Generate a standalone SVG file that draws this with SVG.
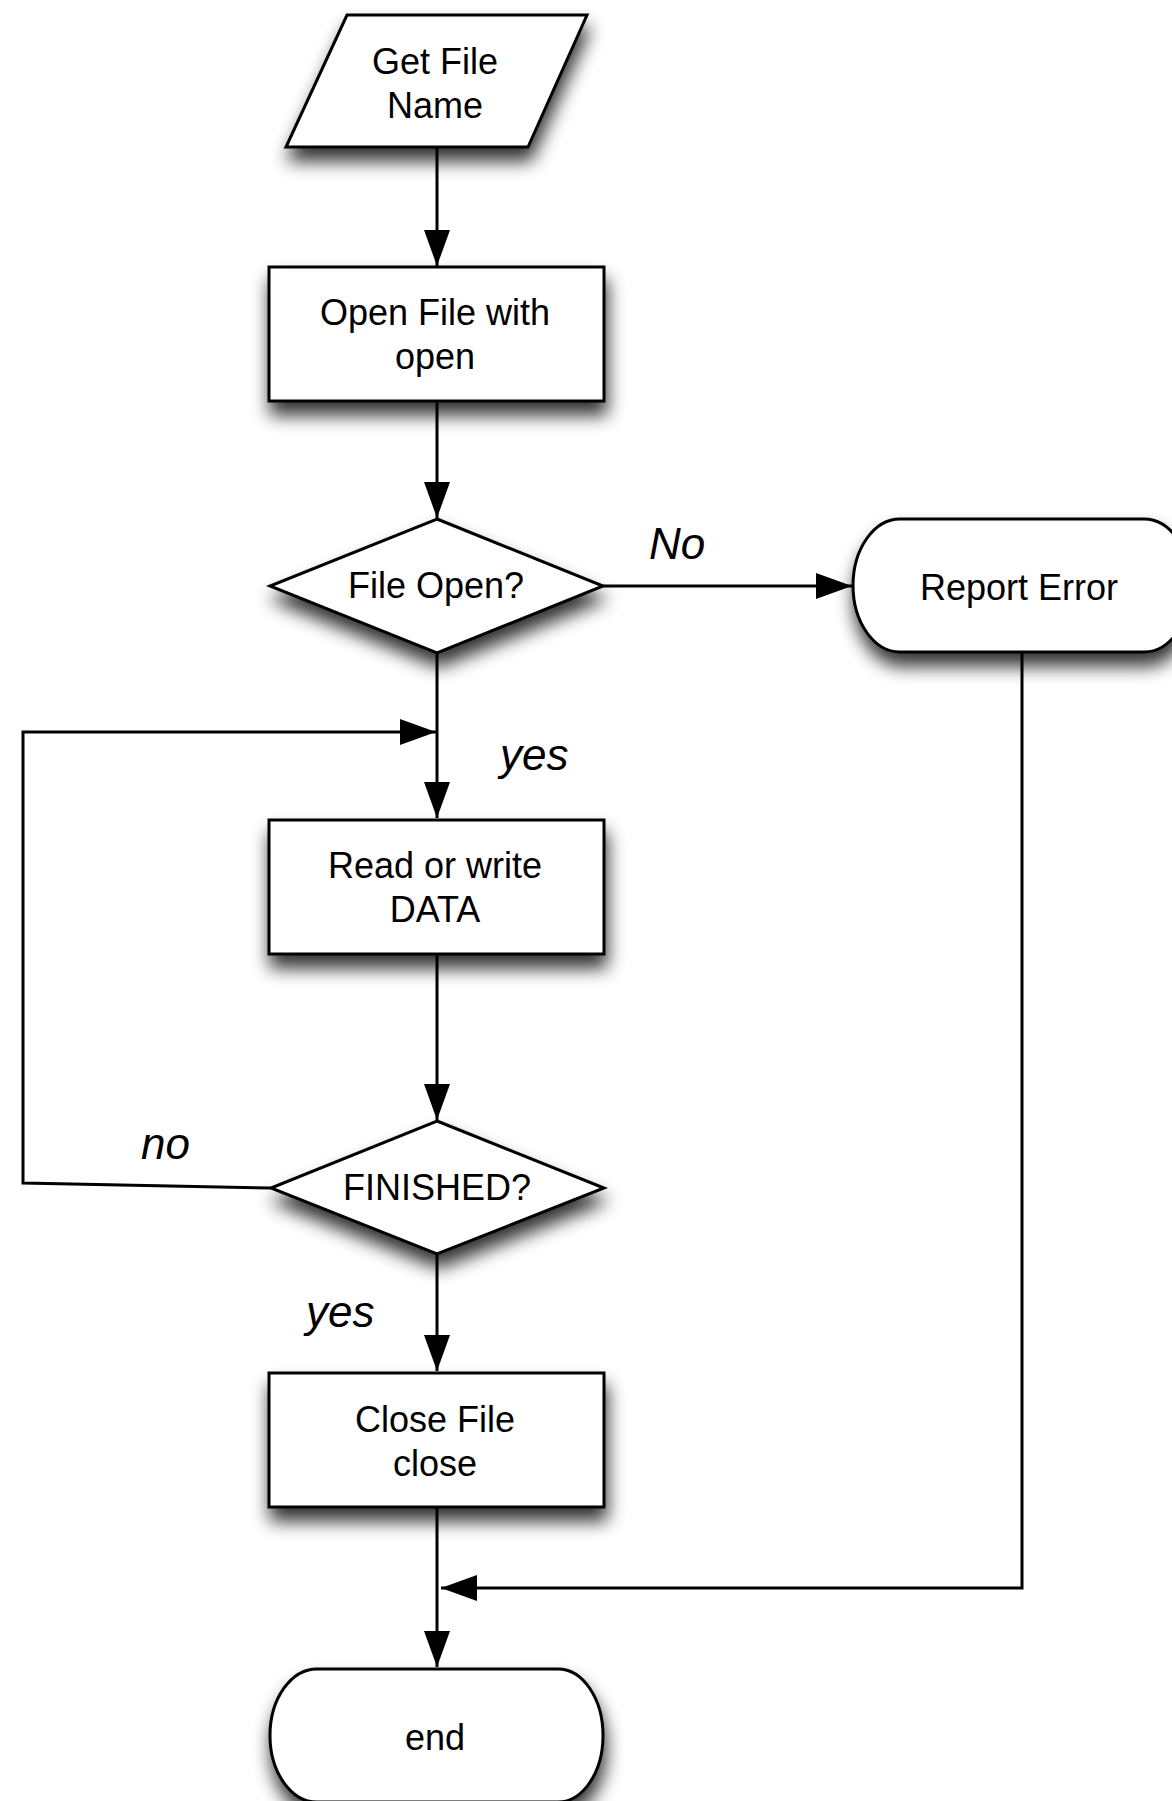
<svg xmlns="http://www.w3.org/2000/svg" width="1172" height="1801" viewBox="0 0 1172 1801">
<style>
.shape{fill:#fff;stroke:#000;stroke-width:3;filter:url(#sh)}
.t{font-family:"Liberation Sans",Arial,sans-serif;font-size:36px;text-anchor:middle;fill:#000}
.lbl{font-family:"Liberation Sans",Arial,sans-serif;font-size:44px;font-style:italic;fill:#000}
.c{fill:none;stroke:#000;stroke-width:3}
</style>
<defs>
<filter id="sh" x="-20%" y="-20%" width="140%" height="170%">
<feGaussianBlur in="SourceAlpha" stdDeviation="9"/>
<feOffset dx="2" dy="13" result="b"/>
<feComponentTransfer><feFuncA type="linear" slope="0.8"/></feComponentTransfer>
<feMerge><feMergeNode/><feMergeNode in="SourceGraphic"/></feMerge>
</filter>
<marker id="ah" viewBox="0 0 36 26" refX="36" refY="13" markerWidth="36" markerHeight="26" markerUnits="userSpaceOnUse" orient="auto">
<path d="M0,0 L36,13 L0,26 z" fill="#000"/>
</marker>
</defs>
<rect width="1172" height="1801" fill="#fff"/>
<g id="connectors">
<line class="c" x1="437" y1="147" x2="437" y2="266" marker-end="url(#ah)"/>
<line class="c" x1="437" y1="401" x2="437" y2="518" marker-end="url(#ah)"/>
<line class="c" x1="603" y1="586" x2="852" y2="586" marker-end="url(#ah)"/>
<line class="c" x1="437" y1="653" x2="437" y2="818" marker-end="url(#ah)"/>
<polyline class="c" points="271,1188 23,1183 23,732 436,732" marker-end="url(#ah)"/>
<line class="c" x1="437" y1="954" x2="437" y2="1120" marker-end="url(#ah)"/>
<line class="c" x1="437" y1="1254" x2="437" y2="1371" marker-end="url(#ah)"/>
<line class="c" x1="437" y1="1507" x2="437" y2="1667" marker-end="url(#ah)"/>
<polyline class="c" points="1022,652 1022,1588 441,1588" marker-end="url(#ah)"/>
<text class="lbl" x="649" y="559">No</text>
<text class="lbl" x="500" y="770">yes</text>
<text class="lbl" x="141" y="1159">no</text>
<text class="lbl" x="306" y="1327">yes</text>
</g>
<g id="get-file-name">
<polygon class="shape" points="347,15 587,15 528,147 286,147"/>
<text class="t" x="435" y="74">Get File</text>
<text class="t" x="435" y="118">Name</text>
</g>
<g id="open-file">
<rect class="shape" x="269" y="267" width="335" height="134"/>
<text class="t" x="435" y="325">Open File with</text>
<text class="t" x="435" y="369">open</text>
</g>
<g id="file-open">
<polygon class="shape" points="437,519 603,586 437,653 270,586"/>
<text class="t" x="436" y="598">File Open?</text>
</g>
<g id="report-error">
<path class="shape" d="M900,519 L1144,519 A47,66.5 0 0 1 1144,652 L900,652 A47,66.5 0 0 1 900,519 Z"/>
<text class="t" x="1019" y="600">Report Error</text>
</g>
<g id="read-write">
<rect class="shape" x="269" y="820" width="335" height="134"/>
<text class="t" x="435" y="878">Read or write</text>
<text class="t" x="435" y="922">DATA</text>
</g>
<g id="finished">
<polygon class="shape" points="437,1121 604,1188 437,1254 271,1188"/>
<text class="t" x="437" y="1200">FINISHED?</text>
</g>
<g id="close-file">
<rect class="shape" x="269" y="1373" width="335" height="134"/>
<text class="t" x="435" y="1432">Close File</text>
<text class="t" x="435" y="1476">close</text>
</g>
<g id="end">
<path class="shape" d="M317,1669 L558,1669 A45,66.5 0 0 1 558,1802 L317,1802 A47,66.5 0 0 1 317,1669 Z"/>
<text class="t" x="435" y="1750">end</text>
</g>
</svg>
